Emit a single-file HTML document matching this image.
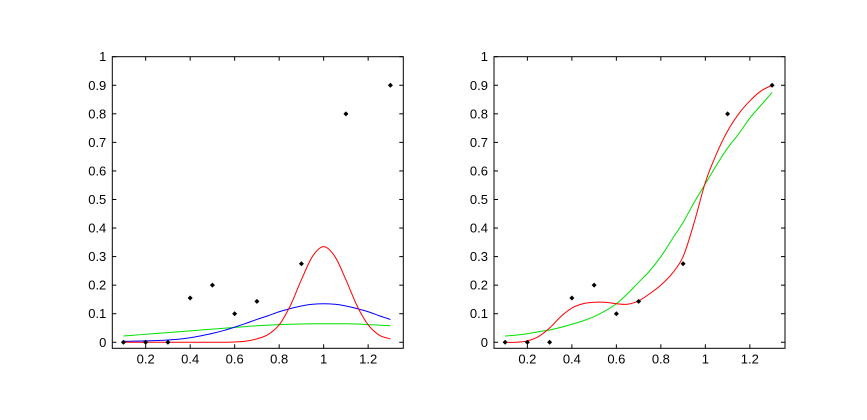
<!DOCTYPE html>
<html><head><meta charset="utf-8"><style>
html,body{margin:0;padding:0;background:#fff;}
svg{display:block;font-family:"Liberation Sans",Arial,sans-serif;}
</style></head><body>
<svg id="fig" width="867" height="420"></svg>
<script>
const xTicks=[0.2,0.4,0.6,0.8,1,1.2];
const xTickLabels=["0.2","0.4","0.6","0.8","1","1.2"];
const yTicks=[0,0.1,0.2,0.3,0.4,0.5,0.6,0.7,0.8,0.9,1];
const yTickLabels=["0","0.1","0.2","0.3","0.4","0.5","0.6","0.7","0.8","0.9","1"];
const pointX=[0.1,0.2,0.3,0.4,0.5,0.6,0.7,0.9,1.1,1.3];
const pointY=[0,0,0,0.155,0.2,0.1,0.143,0.275,0.8,0.9];
const curveX=[0.1,0.15,0.2,0.25,0.3,0.35,0.4,0.45,0.5,0.55,0.6,0.65,0.7,0.75,0.8,0.85,0.9,0.95,1.0,1.05,1.1,1.15,1.2,1.25,1.3];
const leftRed=[0,0,0,0,0,0,0,0,0,0,0.001,0.004,0.012,0.027,0.061,0.128,0.219,0.301,0.335,0.301,0.219,0.128,0.061,0.025,0.012];
const leftBlue=[0.003,0.004,0.005,0.006,0.008,0.011,0.016,0.023,0.031,0.041,0.053,0.066,0.080,0.093,0.107,0.118,0.127,0.133,0.135,0.133,0.127,0.118,0.107,0.093,0.080];
const leftGreen=[0.022,0.025,0.028,0.031,0.034,0.037,0.040,0.043,0.046,0.049,0.052,0.055,0.058,0.060,0.062,0.063,0.064,0.065,0.065,0.065,0.065,0.064,0.062,0.060,0.058];
const rightRed=[0,0,0.005,0.02,0.05,0.09,0.12,0.135,0.14,0.14,0.135,0.133,0.145,0.17,0.2,0.24,0.3,0.42,0.56,0.66,0.74,0.8,0.845,0.88,0.9];
const rightGreen=[0.022,0.025,0.03,0.037,0.043,0.052,0.063,0.075,0.09,0.11,0.135,0.17,0.21,0.25,0.30,0.36,0.42,0.49,0.555,0.62,0.68,0.73,0.785,0.83,0.875];

const NS="http://www.w3.org/2000/svg";
const svg=document.getElementById('fig');
function mk(tag,attrs,parent){const e=document.createElementNS(NS,tag);for(const k in attrs)e.setAttribute(k,attrs[k]);(parent||svg).appendChild(e);return e;}
function smooth(pts){
  let d='M'+pts[0][0].toFixed(2)+' '+pts[0][1].toFixed(2);
  for(let i=0;i<pts.length-1;i++){
    const p0=pts[Math.max(0,i-1)],p1=pts[i],p2=pts[i+1],p3=pts[Math.min(pts.length-1,i+2)];
    const c1=[p1[0]+(p2[0]-p0[0])/6,p1[1]+(p2[1]-p0[1])/6];
    const c2=[p2[0]-(p3[0]-p1[0])/6,p2[1]-(p3[1]-p1[1])/6];
    d+=` C${c1[0].toFixed(2)} ${c1[1].toFixed(2)} ${c2[0].toFixed(2)} ${c2[1].toFixed(2)} ${p2[0].toFixed(2)} ${p2[1].toFixed(2)}`;
  }
  return d;
}
function drawAxes(left,name,series){
  const L=left,R=left+291,T=56.7,B=348.3;
  const xmin=0.05,xmax=1.358,ymin=-0.0211,ymax=1;
  const sx=v=>L+(v-xmin)/(xmax-xmin)*(R-L);
  const sy=v=>B-(v-ymin)/(ymax-ymin)*(B-T);
  const g=mk('g',{});
  
  
  const box=mk('rect',{x:L,y:T,width:R-L,height:B-T,fill:'#fff',stroke:'#000','stroke-width':1},g);
  
  
  xTicks.forEach((v,i)=>{
    const x=sx(v);
    mk('line',{x1:x,y1:B,x2:x,y2:B-4,stroke:'#000'},g);
    mk('line',{x1:x,y1:T,x2:x,y2:T+4,stroke:'#000'},g);
    const t=mk('text',{x:x,y:B+15,'text-anchor':'middle','font-size':13,fill:'#000'},g);
    t.textContent=xTickLabels[i];
    
    
  });
  yTicks.forEach((v,i)=>{
    const y=sy(v);
    mk('line',{x1:L,y1:y,x2:L+4,y2:y,stroke:'#000'},g);
    mk('line',{x1:R,y1:y,x2:R-4,y2:y,stroke:'#000'},g);
    const t=mk('text',{x:L-6,y:y+4.5,'text-anchor':'end','font-size':13,fill:'#000'},g);
    t.textContent=yTickLabels[i];
    
    
  });
  series.forEach(s=>{
    const pts=curveX.map((v,i)=>[sx(v),sy(s.vals[i])]);
    const p=mk('path',{d:smooth(pts),fill:'none',stroke:s.color,'stroke-width':1},g);
    
    
  });
  pointX.forEach((v,i)=>{
    const x=sx(v),y=sy(pointY[i]);
    const p=mk('path',{d:`M${x-2.5} ${y}L${x} ${y-2.5}L${x+2.5} ${y}L${x} ${y+2.5}Z`,fill:'#000'},g);
    
    
  });
}
drawAxes(112.3,'left-chart',[
  {vals:leftGreen,color:'#00e000',name:'green-curve'},
  {vals:leftBlue,color:'#0000ff',name:'blue-curve'},
  {vals:leftRed,color:'#ff0000',name:'red-curve'}]);
drawAxes(494,'right-chart',[
  {vals:rightGreen,color:'#00e000',name:'green-curve'},
  {vals:rightRed,color:'#ff0000',name:'red-curve'}]);
</script>
</body></html>
